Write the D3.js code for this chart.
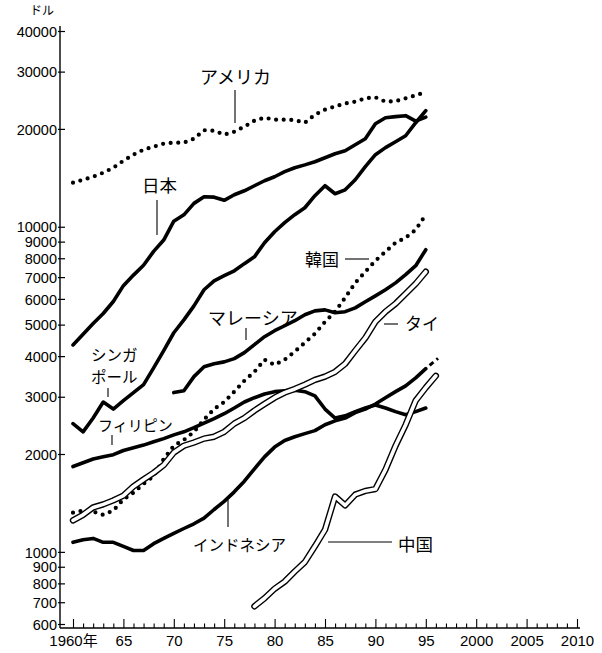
<!DOCTYPE html>
<html>
<head>
<meta charset="utf-8">
<script src="https://cdn.jsdelivr.net/npm/d3@7"></script>
<style>
  html, body { margin: 0; padding: 0; background: #fff; }
  svg { display: block; }
  .tick text { font-family: "Liberation Sans", Arial, sans-serif; font-size: 14.5px; fill: #000; }
  .note { font-family: "Noto Sans CJK JP", sans-serif; fill: #000; }
</style>
</head>
<body>
<svg id="chart" width="602" height="653"></svg>
<script>
// 一人当たりGDP(ドル, 対数目盛)
const usYears = d3.range(1960, 1996);
const usValues = [13660,13950,14250,14660,15190,15960,16660,17260,17630,18010,
  18140,18140,18650,19810,19740,19190,19600,20310,21200,21650,
  21350,21350,21280,20890,22110,22920,23440,23950,24250,24840,
  25010,24250,24340,24840,25370,25960];

const japanYears = d3.range(1960, 1996);
const japanValues = [4330,4670,5040,5410,5890,6590,7100,7610,8400,9100,
  10400,10880,11800,12370,12330,12060,12540,12900,13370,13850,
  14250,14770,15190,15500,15850,16300,16770,17130,17880,18650,
  20750,21650,21810,21960,21130,21730];

const singaporeYears = d3.range(1960, 1996);
const singaporeValues = [2480,2340,2580,2890,2750,2920,3090,3270,3680,4160,
  4720,5170,5710,6400,6820,7070,7320,7700,8080,8930,
  9650,10290,10890,11440,12460,13370,12630,12990,13950,15300,
  16660,17510,18260,19050,20890,22750];

const koreaYears = d3.range(1960, 1996);
const koreaValues = [1320,1340,1330,1300,1340,1450,1520,1620,1710,1930,
  2120,2210,2340,2550,2750,2890,3110,3360,3580,3900,
  3760,3900,4130,4400,4690,5100,5480,6050,6720,7270,
  7860,8380,8930,9250,9790,10890];

const malaysiaYears = d3.range(1970, 1996);
const malaysiaValues = [3090,3130,3460,3710,3790,3840,3930,4100,4340,4590,
  4790,4960,5140,5360,5510,5550,5440,5480,5630,5880,
  6130,6400,6720,7120,7590,8500];

const thaiYears = d3.range(1960, 1996);
const thaiValues = [1250,1300,1370,1400,1440,1490,1590,1670,1750,1850,
  2020,2120,2170,2230,2260,2340,2480,2580,2720,2850,
  2980,3090,3170,3270,3380,3460,3580,3790,4160,4550,
  5100,5480,5800,6220,6680,7270];

const philippinesYears = d3.range(1960, 1996);
const philippinesValues = [1830,1880,1930,1960,1990,2050,2090,2130,2180,2230,
  2290,2340,2410,2490,2570,2660,2770,2890,2980,3060,
  3110,3130,3140,3110,3020,2750,2580,2620,2700,2770,
  2830,2770,2700,2640,2700,2770];

const indonesiaYears = d3.range(1960, 1996);
const indonesiaValues = [1070,1090,1100,1070,1070,1040,1010,1010,1060,1100,
  1140,1180,1220,1270,1350,1430,1530,1650,1800,1960,
  2100,2200,2260,2310,2360,2460,2530,2580,2680,2750,
  2850,2980,3110,3240,3430,3660];
// 見通し(破線)
const indonesiaOutlookYears = [1995, 1997];
const indonesiaOutlookValues = [3660, 4130];

const chinaYears = d3.range(1978, 1997);
const chinaValues = [680,720,770,810,870,930,1040,1170,1480,1390,
  1500,1540,1560,1790,2120,2460,2920,3200,3480];

const yTickValues = [600,700,800,900,1000,2000,3000,4000,5000,6000,7000,8000,9000,10000,20000,30000,40000];
const xTickValues = d3.range(1960, 2011);

// 描画
const svg = d3.select("#chart");
const x = d3.scaleLinear().domain([1960, 2010]).range([73, 577]);
const y = d3.scaleLog().domain([600, 40000]).range([624, 31]);
const axisX0 = 60, axisY0 = 628;

// y axis
const yAxis = d3.axisLeft(y).tickValues(yTickValues).tickFormat(d3.format("d"))
  .tickSizeInner(-5).tickSizeOuter(0).tickPadding(3);
const gy = svg.append("g").attr("transform", `translate(${axisX0},0)`).call(yAxis);
gy.select(".domain").remove();
gy.selectAll(".tick line").attr("x1", -2).attr("x2", 5).attr("stroke", "#000").attr("stroke-width", 1.2);
gy.selectAll(".tick text").attr("x", -3).attr("dy", "0.36em");
svg.append("line").attr("x1", axisX0).attr("x2", axisX0).attr("y1", axisY0).attr("y2", 26)
  .attr("stroke", "#000").attr("stroke-width", 1.4);

// x axis
const fmtYear = d => d % 5 ? "" : (d === 1960 ? "1960年" : d >= 2000 ? String(d) : String(d % 100));
const xAxis = d3.axisBottom(x).tickValues(xTickValues).tickFormat(fmtYear)
  .tickSizeInner(-4).tickSizeOuter(0);
const gx = svg.append("g").attr("transform", `translate(0,${axisY0})`).call(xAxis);
gx.select(".domain").remove();
gx.selectAll(".tick line").attr("y2", d => d % 5 ? -4.5 : -9).attr("stroke", "#000").attr("stroke-width", 1.1);
gx.selectAll(".tick text").attr("y", 18).attr("dy", 0).style("font-size", "15px");
gx.selectAll(".tick text").filter(d => d === 1960).style("font-family", "'Liberation Sans', 'Noto Sans CJK JP', sans-serif");
svg.append("line").attr("x1", axisX0).attr("x2", 580).attr("y1", axisY0).attr("y2", axisY0)
  .attr("stroke", "#000").attr("stroke-width", 1.4);

// lines
const line = d3.line().x(d => x(d[0])).y(d => y(d[1]));
const pairs = (ys, vs) => ys.map((yr, i) => [yr, vs[i]]);

function solid(ys, vs) {
  svg.append("path").attr("d", line(pairs(ys, vs)))
    .attr("fill", "none").attr("stroke", "#000").attr("stroke-width", 3.6)
    .attr("stroke-linejoin", "round").attr("stroke-linecap", "round");
}
function dotted(ys, vs) {
  svg.append("path").attr("d", line(pairs(ys, vs)))
    .attr("fill", "none").attr("stroke", "#000").attr("stroke-width", 4.2)
    .attr("stroke-dasharray", "0 7.6").attr("stroke-linecap", "round");
}
function hollow(ys, vs) {
  const d = line(pairs(ys, vs));
  svg.append("path").attr("d", d).attr("fill", "none").attr("stroke", "#000").attr("stroke-width", 6.4)
    .attr("stroke-linejoin", "round").attr("stroke-linecap", "round");
  svg.append("path").attr("d", d).attr("fill", "none").attr("stroke", "#fff").attr("stroke-width", 3.6)
    .attr("stroke-linejoin", "round").attr("stroke-linecap", "round");
}

dotted(usYears, usValues);
solid(japanYears, japanValues);
solid(singaporeYears, singaporeValues);
solid(malaysiaYears, malaysiaValues);
dotted(koreaYears, koreaValues);
solid(philippinesYears, philippinesValues);
solid(indonesiaYears, indonesiaValues);
svg.append("path").attr("d", line(pairs(indonesiaOutlookYears, indonesiaOutlookValues)))
  .attr("fill", "none").attr("stroke", "#000").attr("stroke-width", 3)
  .attr("stroke-dasharray", "0 5 5 4 2 30");
hollow(thaiYears, thaiValues);
hollow(chinaYears, chinaValues);

// labels and leaders
const notes = [
  { t: "アメリカ", x: 200, y: 84, s: 18 },
  { t: "日本", x: 142, y: 192, s: 17.5 },
  { t: "韓国", x: 305, y: 266, s: 17 },
  { t: "マレーシア", x: 208, y: 325, s: 18 },
  { t: "タイ", x: 405, y: 330, s: 17 },
  { t: "シンガ", x: 91, y: 361, s: 15.5 },
  { t: "ポール", x: 91, y: 383, s: 15.5 },
  { t: "フィリピン", x: 98, y: 431, s: 15 },
  { t: "インドネシア", x: 193, y: 551, s: 15.5 },
  { t: "中国", x: 398, y: 551, s: 17.5 },
  { t: "ドル", x: 54, y: 15, s: 12, anchor: "end" }
];
const leaders = [
  [235, 90, 235, 123], [157, 200, 157, 235], [345, 259, 369, 259],
  [246, 328, 246, 340], [384, 324, 398, 324], [108, 388, 108, 397],
  [112, 435, 112, 445], [228, 500, 228, 527], [328, 542, 392, 542]
];
svg.selectAll("text.note").data(notes).join("text").attr("class", "note")
  .attr("x", d => d.x).attr("y", d => d.y).attr("font-size", d => d.s)
  .attr("text-anchor", d => d.anchor || "start").text(d => d.t);
svg.selectAll("line.leader").data(leaders).join("line").attr("class", "leader")
  .attr("x1", d => d[0]).attr("y1", d => d[1]).attr("x2", d => d[2]).attr("y2", d => d[3])
  .attr("stroke", "#000").attr("stroke-width", 1.1);
</script>
</body>
</html>
